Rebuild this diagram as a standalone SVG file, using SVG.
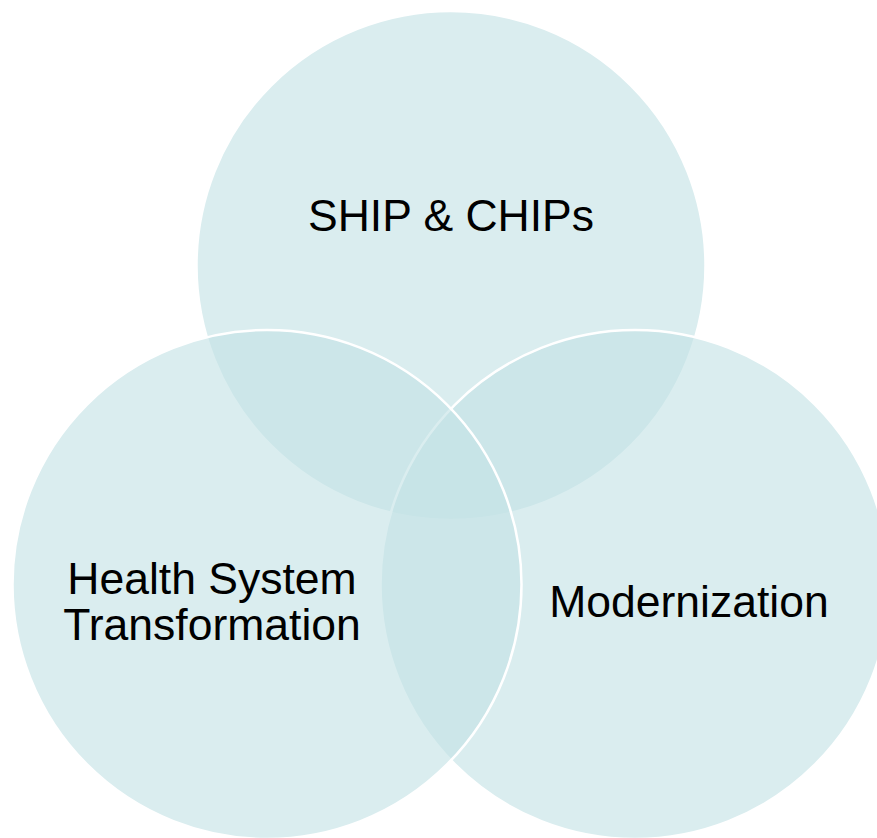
<svg xmlns="http://www.w3.org/2000/svg" width="877" height="838" viewBox="0 0 877 838">
  <style>
    .disc { fill: #c3e2e5; fill-opacity: 0.62; stroke: #ffffff; stroke-width: 2.5; }
    .label { font-family: "Liberation Sans", Arial, sans-serif; font-size: 44.5px; fill: #000000; text-anchor: middle; }
  </style>
  <rect width="877" height="838" fill="#ffffff"/>
  <g id="ship-chips">
    <circle class="disc" cx="451" cy="265.5" r="254.5"/>
  </g>
  <g id="modernization">
    <circle class="disc" cx="635" cy="584.5" r="254.5"/>
  </g>
  <g id="health-system-transformation">
    <circle class="disc" cx="267" cy="584.5" r="254.5"/>
  </g>
  <g id="labels">
    <text class="label" x="451" y="231">SHIP &amp; CHIPs</text>
    <text class="label" x="212" y="594">Health System</text>
    <text class="label" x="212" y="640">Transformation</text>
    <text class="label" x="689" y="617">Modernization</text>
  </g>
</svg>
